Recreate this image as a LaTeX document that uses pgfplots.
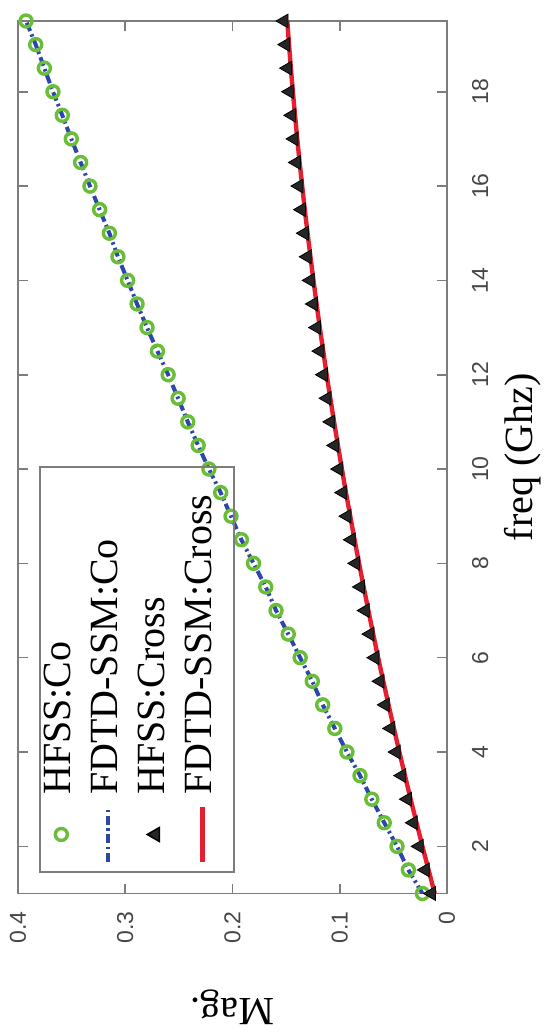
\documentclass[border=0pt]{standalone}
\usepackage{pgfplots}
\pgfplotsset{compat=1.18}
\usepackage{pgfplotstable}
\usepackage{graphicx}
\usepackage{fontspec}
\setmainfont{Liberation Serif}
\setsansfont{Liberation Sans}

\definecolor{cogreen}{RGB}{105,190,55}
\definecolor{coblue}{RGB}{45,70,170}
\definecolor{xred}{RGB}{228,32,48}
\definecolor{axgray}{RGB}{125,125,125}
\definecolor{lblgray}{RGB}{70,70,70}

% f (GHz), co-pol, cross-pol (FDTD), cross-pol (HFSS)
\pgfplotstableread{
f    co     cross  hcross
1    0.0229 0.0114 0.0144
1.5  0.0360 0.0172 0.0202
2    0.0466 0.0229 0.0259
2.5  0.0585 0.0284 0.0314
3    0.0701 0.0339 0.0369
3.5  0.0811 0.0392 0.0422
4    0.0933 0.0444 0.0474
4.5  0.1046 0.0495 0.0525
5    0.1159 0.0545 0.0575
5.5  0.1256 0.0594 0.0624
6    0.1369 0.0642 0.0672
6.5  0.1480 0.0688 0.0718
7    0.1594 0.0733 0.0763
7.5  0.1690 0.0777 0.0807
8    0.1804 0.0820 0.0850
8.5  0.1917 0.0862 0.0892
9    0.2014 0.0902 0.0932
9.5  0.2110 0.0942 0.0972
10   0.2220 0.0980 0.1010
10.5 0.2320 0.1017 0.1047
11   0.2417 0.1053 0.1083
11.5 0.2507 0.1088 0.1118
12   0.2600 0.1122 0.1152
12.5 0.2700 0.1154 0.1184
13   0.2797 0.1186 0.1216
13.5 0.2890 0.1216 0.1246
14   0.2978 0.1245 0.1275
14.5 0.3068 0.1273 0.1303
15   0.3148 0.1300 0.1330
15.5 0.3239 0.1326 0.1356
16   0.3329 0.1350 0.1380
16.5 0.3416 0.1374 0.1404
17   0.3503 0.1396 0.1426
17.5 0.3587 0.1417 0.1447
18   0.3674 0.1437 0.1467
18.5 0.3754 0.1456 0.1486
19   0.3835 0.1473 0.1503
19.5 0.3925 0.1489 0.1519
}\magdata

\begin{document}
\rotatebox{90}{%
\begin{tikzpicture}
\begin{axis}[
  name=ax,
  width=436.25pt, height=214.5pt, scale only axis,
  xmin=1, xmax=19.5, ymin=0, ymax=0.4,
  xtick={2,4,6,8,10,12,14,16,18},
  ytick={0,0.1,0.2,0.3,0.4},
  tick align=inside, tick pos=both,
  major tick length=5pt,
  axis line style={axgray, line width=0.8pt},
  every tick/.style={axgray, line width=0.8pt},
  /pgf/number format/assume math mode=true,
  tick label style={font=\sffamily\fontsize{11.5}{13}\selectfont, text=lblgray},
  xticklabel style={yshift=-9pt},
  yticklabel style={xshift=-5.5pt},
  xlabel={freq (Ghz)},
  ylabel={Mag.},
  x label style={at={(axis description cs:0.5,-0.133)}, anchor=north, inner sep=0pt,
    font=\fontsize{20}{24}\selectfont},
  y label style={at={(axis description cs:-0.1095,0.5)}, anchor=south, rotate=0, inner sep=0pt,
    font=\fontsize{20}{24}\selectfont},
  legend image code/.code={\draw[mark repeat=2,mark phase=2,#1]
    plot coordinates {(0pt,2.5pt) (13.75pt,2.5pt) (27.5pt,2.5pt)};},
  legend cell align=left,
  legend style={at={(0.0235,0.951)}, anchor=north west,
    draw=axgray, line width=0.8pt, fill=none,
    font=\fontsize{20}{23}\selectfont,
    inner xsep=4pt, inner ysep=1.5pt, row sep=0pt,
    nodes={inner sep=0pt, text width=160pt, text height=14pt, text depth=9.5pt},
    /tikz/every odd column/.append style={column sep=5pt}},
]
\addplot[only marks, mark=o, mark size=3pt, mark options={draw=cogreen, line width=1.7pt}]
  table[x=f, y=co] {\magdata};
\addlegendentry{HFSS:Co}
\addplot[coblue, line width=2pt, dash pattern=on 4.5pt off 1.8pt on 1.2pt off 1.8pt]
  table[x=f, y=co] {\magdata};
\addlegendentry{FDTD-SSM:Co}
\addplot[only marks, mark=triangle*, mark size=4pt, mark options={draw=black, fill=black!85}]
  table[x=f, y=hcross] {\magdata};
\addlegendentry{HFSS:Cross}
\addplot[xred, line width=2.2pt]
  table[x=f, y=cross] {\magdata};
\addlegendentry{FDTD-SSM:Cross}
\end{axis}
\pgfresetboundingbox
\path[use as bounding box] ([shift={(-69.75pt,-49.5pt)}]ax.south west)
  rectangle ([shift={(10.5pt,9pt)}]ax.north east);
\end{tikzpicture}}
\end{document}
